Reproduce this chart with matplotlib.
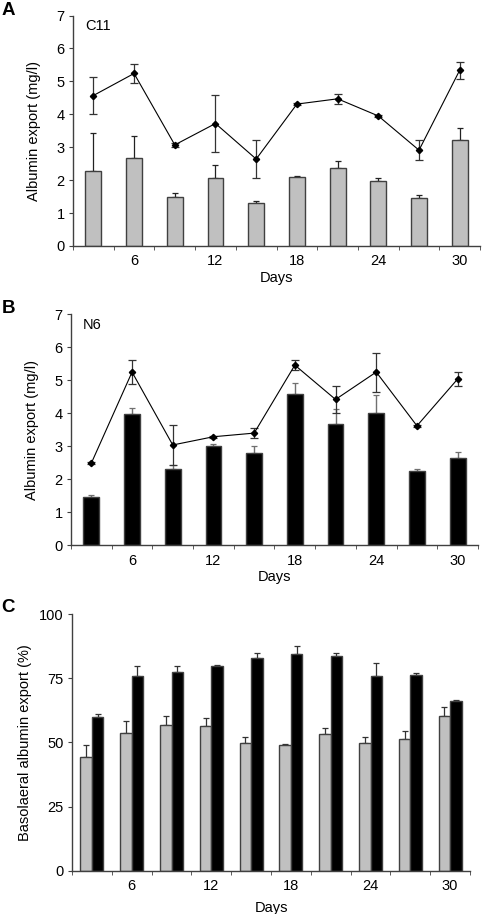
import matplotlib
matplotlib.use("Agg")
import matplotlib.pyplot as plt
import numpy as np

plt.rcParams['font.family'] = ['Liberation Sans', 'DejaVu Sans']

days = [3, 6, 9, 12, 15, 18, 21, 24, 27, 30]
tick_days = [6, 12, 18, 24, 30]

# Panel A (C11)
a_bar = [2.29, 2.68, 1.50, 2.06, 1.31, 2.09, 2.38, 1.97, 1.47, 3.21]
a_bar_err = [1.15, 0.66, 0.10, 0.41, 0.05, 0.04, 0.20, 0.08, 0.09, 0.37]
a_line = [4.57, 5.24, 3.07, 3.72, 2.64, 4.31, 4.47, 3.95, 2.91, 5.34]
a_line_err = [0.56, 0.30, 0.05, 0.87, 0.59, 0.03, 0.15, 0.04, 0.31, 0.26]

# Panel B (N6)
b_bar = [1.47, 3.97, 2.32, 3.00, 2.81, 4.60, 3.69, 4.02, 2.26, 2.66]
b_bar_err = [0.04, 0.19, 0.10, 0.06, 0.19, 0.31, 0.43, 0.55, 0.04, 0.18]
b_line = [2.49, 5.25, 3.04, 3.29, 3.40, 5.46, 4.42, 5.25, 3.62, 5.04]
b_line_err = [0.03, 0.36, 0.60, 0.03, 0.14, 0.15, 0.42, 0.59, 0.03, 0.20]

# Panel C
c_gray = [44.2, 53.7, 57.0, 56.6, 49.7, 48.9, 53.3, 49.9, 51.5, 60.5]
c_gray_err = [5.0, 4.8, 3.5, 3.0, 2.6, 0.6, 2.5, 2.4, 3.0, 3.5]
c_black = [60.1, 75.8, 77.5, 79.8, 83.1, 84.5, 83.9, 75.9, 76.2, 66.3]
c_black_err = [1.1, 4.0, 2.3, 0.3, 1.7, 3.1, 1.1, 5.0, 0.9, 0.4]

GRAY = '#c0c0c0'
EDGE = '#404040'
FS = 10.5

fig = plt.figure(figsize=(4.82, 9.14), dpi=100)

def style_axes(ax, ymax, yticks):
    n = len(days)
    x = np.arange(n)
    ax.set_xlim(-0.5, n - 0.5)
    ax.set_ylim(0, ymax)
    ax.spines['top'].set_visible(False)
    ax.spines['right'].set_visible(False)
    for s in ('left', 'bottom'):
        ax.spines[s].set_color(EDGE)
        ax.spines[s].set_linewidth(1.0)
    ax.set_yticks(yticks)
    ax.tick_params(axis='y', direction='out', length=3, color=EDGE, labelsize=FS, pad=3)
    major = [days.index(d) for d in tick_days]
    ax.set_xticks(major)
    ax.set_xticklabels([str(d) for d in tick_days])
    ax.set_xticks(np.arange(n + 1) - 0.5, minor=True)
    ax.tick_params(axis='x', which='major', length=0, labelsize=FS, pad=6)
    ax.tick_params(axis='x', which='minor', direction='out', length=3, color=EDGE)
    ax.set_xlabel('Days', fontsize=FS, labelpad=2)
    return x

# Panel A
axA = fig.add_axes([0.1515, 0.7309, 0.8445, 0.2521])
x = style_axes(axA, 7, range(0, 8))
axA.bar(x, a_bar, width=0.39, color=GRAY, edgecolor=EDGE, linewidth=1.0, zorder=2)
axA.errorbar(x, a_bar, yerr=[np.zeros(len(a_bar)), a_bar_err], fmt='none',
             ecolor='#222222', elinewidth=0.9, capsize=2.2, capthick=0.9, zorder=1)
axA.errorbar(x, a_line, yerr=a_line_err, fmt='-', color='black', lw=0.8,
             marker='D', ms=3.2, mfc='black', mec='black',
             ecolor='#333333', elinewidth=0.9, capsize=2.8, capthick=0.9, zorder=3)
axA.set_ylabel('Albumin export (mg/l)', fontsize=FS, labelpad=11)
axA.text(0.03, 0.985, 'C11', transform=axA.transAxes, fontsize=FS, va='top', ha='left')
fig.text(0.003, 0.998, 'A', fontsize=13.5, fontweight='bold', va='top', ha='left')

# Panel B
axB = fig.add_axes([0.1473, 0.4034, 0.8444, 0.2527])
x = style_axes(axB, 7, range(0, 8))
axB.bar(x, b_bar, width=0.39, color='black', edgecolor=EDGE, linewidth=1.0, zorder=2)
axB.errorbar(x, b_bar, yerr=[np.zeros(len(b_bar)), b_bar_err], fmt='none',
             ecolor='#707070', elinewidth=1.0, capsize=2.2, capthick=0.9, zorder=1)
axB.errorbar(x, b_line, yerr=b_line_err, fmt='-', color='black', lw=0.8,
             marker='D', ms=3.2, mfc='black', mec='black',
             ecolor='#333333', elinewidth=0.9, capsize=2.8, capthick=0.9, zorder=3)
axB.set_ylabel('Albumin export (mg/l)', fontsize=FS, labelpad=11)
axB.text(0.03, 0.985, 'N6', transform=axB.transAxes, fontsize=FS, va='top', ha='left')
fig.text(0.003, 0.672, 'B', fontsize=13.5, fontweight='bold', va='top', ha='left')

# Panel C
axC = fig.add_axes([0.1494, 0.0474, 0.8257, 0.2805])
x = style_axes(axC, 100, [0, 25, 50, 75, 100])
w = 0.29
axC.bar(x - w / 2, c_gray, width=w, color=GRAY, edgecolor=EDGE, linewidth=1.0, zorder=2)
axC.bar(x + w / 2, c_black, width=w, color='black', edgecolor=EDGE, linewidth=1.0, zorder=2)
axC.errorbar(x - w / 2, c_gray, yerr=[np.zeros(10), c_gray_err], fmt='none',
             ecolor='#333333', elinewidth=0.9, capsize=2.2, capthick=0.9, zorder=1)
axC.errorbar(x + w / 2, c_black, yerr=[np.zeros(10), c_black_err], fmt='none',
             ecolor='#333333', elinewidth=0.9, capsize=2.2, capthick=0.9, zorder=1)
axC.set_ylabel('Basolaeral albumin export (%)', fontsize=FS, labelpad=5)
axC.xaxis.labelpad = 6
fig.text(0.003, 0.345, 'C', fontsize=13.5, fontweight='bold', va='top', ha='left')

fig.savefig('out.png', dpi=100)
